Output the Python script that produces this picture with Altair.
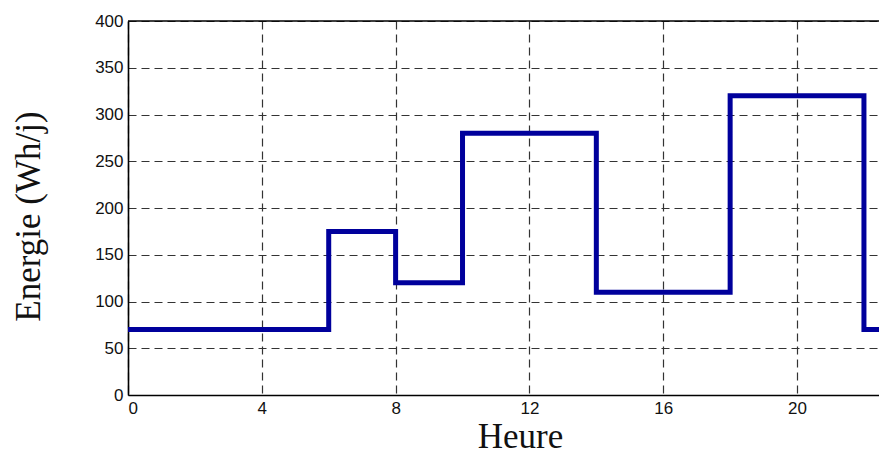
import altair as alt
import pandas as pd

# Step profile: hour at which each level starts, and energy level (Wh/j)
hours = [0, 6, 8, 10, 14, 18, 22, 24]
energy = [70, 175, 120, 280, 110, 320, 70, 70]

x_ticks = [0, 4, 8, 12, 16, 20]
y_ticks = [0, 50, 100, 150, 200, 250, 300, 350, 400]

df = pd.DataFrame({"Heure": hours, "Energie": energy})
top = pd.DataFrame({"Energie": [400]})

x_scale = alt.Scale(domain=[0, 22.45], nice=False, zero=False)
y_scale = alt.Scale(domain=[0, 400], nice=False)

line = alt.Chart(df).mark_line(
    interpolate="step-after", color="#00009c", strokeWidth=5,
    strokeJoin="miter", strokeCap="butt", clip=True
).encode(
    x=alt.X("Heure:Q", scale=x_scale, axis=alt.Axis(
        values=x_ticks, title="Heure", grid=True, gridDash=[8, 5],
        gridColor="#333333", gridWidth=1.2, ticks=False,
        domainColor="black", domainWidth=1.6,
        labelFont="Liberation Sans", labelFontSize=17, labelColor="#111111",
        labelPadding=5, labelBaseline="top",
        titleFont="Liberation Serif", titleFontSize=35, titleFontWeight="normal",
        titleColor="#111111", titleX=392, titleY=52, titleBaseline="alphabetic",
        titleAlign="center")),
    y=alt.Y("Energie:Q", scale=y_scale, axis=alt.Axis(
        values=y_ticks, title="Energie (Wh/j)", grid=True, gridDash=[8, 5],
        gridColor="#333333", gridWidth=1.2, ticks=False,
        domainColor="black", domainWidth=1.6,
        labelFont="Liberation Sans", labelFontSize=17, labelColor="#111111",
        labelPadding=5,
        titleFont="Liberation Serif", titleFontSize=35, titleFontWeight="normal",
        titleColor="#111111", titleX=-100, titleY=195, titleBaseline="middle",
        titleAlign="center", titleAngle=270)),
)

border = alt.Chart(top).mark_rule(color="black", strokeWidth=1.6).encode(
    y=alt.Y("Energie:Q", scale=y_scale)
)

chart = alt.layer(line, border).properties(
    width=751, height=374,
    autosize=alt.AutoSizeParams(type="none"),
    padding={"left": 120, "top": 13, "right": 0, "bottom": 53},
    background="white",
).configure_view(strokeWidth=0)

chart.save("out.html", embed_options={"renderer": "svg", "actions": False})
